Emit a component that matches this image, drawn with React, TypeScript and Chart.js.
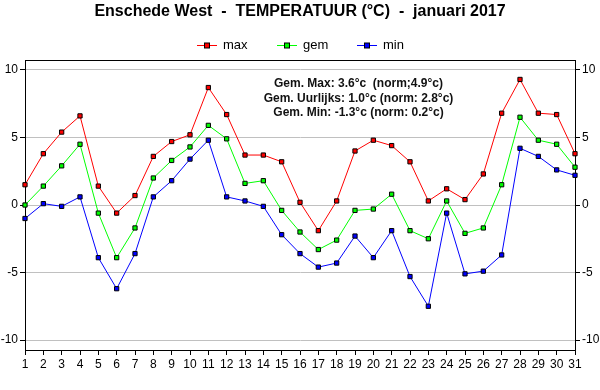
import React, { useEffect, useRef } from "react";
import { Chart, registerables } from "chart.js";

Chart.register(...registerables);

const days = ["1","2","3","4","5","6","7","8","9","10","11","12","13","14","15","16","17","18","19","20","21","22","23","24","25","26","27","28","29","30","31"];
const maxTemps = [1.5,3.8,5.4,6.6,1.4,-0.6,0.7,3.6,4.7,5.2,8.7,6.7,3.7,3.7,3.2,0.2,-1.9,0.3,4.0,4.8,4.4,3.2,0.3,1.2,0.4,2.3,6.8,9.3,6.8,6.7,3.8];
const gemTemps = [0.0,1.4,2.9,4.5,-0.6,-3.9,-1.7,2.0,3.3,4.3,5.9,4.9,1.6,1.8,-0.4,-2.0,-3.3,-2.6,-0.4,-0.3,0.8,-1.9,-2.5,0.3,-2.1,-1.7,1.5,6.5,4.8,4.5,2.8];
const minTemps = [-1.0,0.1,-0.1,0.6,-3.9,-6.2,-3.6,0.6,1.8,3.4,4.8,0.6,0.3,-0.1,-2.2,-3.6,-4.6,-4.3,-2.3,-3.9,-1.9,-5.3,-7.5,-0.6,-5.1,-4.9,-3.7,4.2,3.6,2.6,2.2];
const yTicks = [-10, -5, 0, 5, 10];
const seriesNames = ["max", "gem", "min"];
const seriesColors = ["#ff0000", "#00ff00", "#0000ff"];
const titleText = "Enschede West  -  TEMPERATUUR (°C)  -  januari 2017";
const infoLines = [
  "Gem. Max: 3.6°c  (norm;4.9°c)",
  "Gem. Uurlijks: 1.0°c (norm: 2.8°c)",
  "Gem. Min: -1.3°c (norm: 0.2°c)",
];

const FONT = '"Liberation Sans", Arial, sans-serif';

export default function App() {
  const ref = useRef<HTMLCanvasElement | null>(null);
  useEffect(() => {
    document.body.style.margin = "0";
    const canvas = ref.current;
    if (!canvas) return;
    const decor = {
      id: "decor",
      afterDraw(chart: any) {
        const ctx = chart.ctx;
        const a = chart.chartArea;
        ctx.save();
        // top border
        ctx.strokeStyle = "#000";
        ctx.lineWidth = 1;
        ctx.beginPath();
        ctx.moveTo(a.left, Math.round(a.top) + 0.5);
        ctx.lineTo(a.right, Math.round(a.top) + 0.5);
        ctx.stroke();
        // title
        ctx.fillStyle = "#000";
        ctx.font = "bold 16px " + FONT;
        ctx.textAlign = "center";
        ctx.textBaseline = "middle";
        ctx.fillText(titleText, 300, 12);
        // legend
        const lx = [197, 277, 357];
        ctx.font = "13px " + FONT;
        ctx.textAlign = "left";
        seriesNames.forEach((n, i) => {
          const x = lx[i];
          const y = 45.5;
          ctx.strokeStyle = seriesColors[i];
          ctx.beginPath();
          ctx.moveTo(x, y);
          ctx.lineTo(x + 20, y);
          ctx.stroke();
          ctx.fillStyle = seriesColors[i];
          ctx.fillRect(x + 7.5, y - 2.5, 5, 5);
          ctx.strokeStyle = "#000";
          ctx.strokeRect(x + 7.5, y - 2.5, 5, 5);
          ctx.fillStyle = "#000";
          ctx.fillText(n, x + 26, y);
        });
        // info text
        ctx.font = "bold 12px " + FONT;
        ctx.textAlign = "center";
        ctx.fillStyle = "#111";
        infoLines.forEach((t, i) => {
          ctx.fillText(t, 358.5, 84 + i * 14.5);
        });
        ctx.restore();
      },
    };
    const mkDs = (label: string, data: number[], color: string) => ({
      label,
      data,
      borderColor: color,
      backgroundColor: color,
      borderWidth: 1,
      tension: 0,
      pointStyle: "rect",
      pointRadius: 3,
      pointBorderColor: "#000",
      pointBorderWidth: 1,
      pointBackgroundColor: color,
      yAxisID: "y",
    });
    const yBase = {
      min: -10.74,
      max: 10.74,
      afterBuildTicks: (s: any) => {
        s.ticks = yTicks.map((v) => ({ value: v }));
      },
      afterFit: (s: any) => {
        s.width = 25;
      },
    };
    const chart = new Chart(canvas, {
      type: "line",
      data: {
        labels: days,
        datasets: [
          mkDs(seriesNames[0], maxTemps, seriesColors[0]),
          mkDs(seriesNames[1], gemTemps, seriesColors[1]),
          mkDs(seriesNames[2], minTemps, seriesColors[2]),
        ],
      },
      options: {
        animation: false,
        responsive: false,
        layout: { padding: { top: 60, left: 0, right: 0, bottom: 0 } },
        plugins: { legend: { display: false }, title: { display: false }, tooltip: { enabled: false } },
        scales: {
          x: {
            type: "category",
            offset: false,
            grid: { drawOnChartArea: false, tickLength: 5, tickColor: "#000" },
            border: { color: "#000", width: 1 },
            ticks: { color: "#000", font: { family: FONT, size: 12 }, padding: 2, maxRotation: 0, autoSkip: false },
            afterFit: (s: any) => {
              s.height = 40;
            },
          },
          y: {
            ...yBase,
            position: "left",
            grid: { color: "#c0c0c0", tickLength: 5, tickColor: "#000" },
            border: { color: "#000", width: 1 },
            ticks: { color: "#000", font: { family: FONT, size: 12 }, padding: 2, includeBounds: false },
          },
          y2: {
            ...yBase,
            position: "right",
            grid: { drawOnChartArea: false, tickLength: 5, tickColor: "#000" },
            border: { color: "#000", width: 1 },
            ticks: { color: "#000", font: { family: FONT, size: 12 }, padding: 2, includeBounds: false },
          },
        },
      },
      plugins: [decor],
    } as any);
    return () => chart.destroy();
  }, []);
  return (
    <div style={{ width: 600, height: 390, background: "#fff" }}>
      <canvas ref={ref} width={600} height={390} />
    </div>
  );
}
